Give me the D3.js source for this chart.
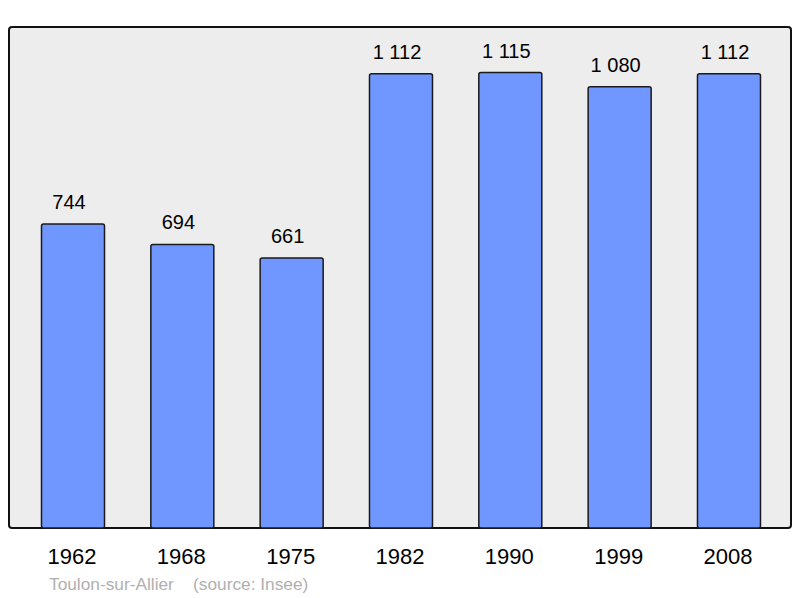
<!DOCTYPE html>
<html><head><meta charset="utf-8">
<script src="https://cdn.jsdelivr.net/npm/d3@7"></script>
<style>body{margin:0;background:#fff}</style>
</head><body>
<svg id="c" width="800" height="598"></svg>
<script>
const years = ["1962","1968","1975","1982","1990","1999","2008"];
const population = [744, 694, 661, 1112, 1115, 1080, 1112];
const valueLabels = ["744","694","661","1 112","1 115","1 080","1 112"];
const footer = "Toulon-sur-Allier    (source: Insee)";

const svg = d3.select("#c");
const frame = {x0: 9, y0: 27, x1: 791, y1: 528};
svg.append("rect").attr("x", frame.x0).attr("y", frame.y0)
  .attr("width", frame.x1 - frame.x0).attr("height", frame.y1 - frame.y0)
  .attr("rx", 3).attr("fill", "#ededed").attr("stroke", "#111").attr("stroke-width", 2);

const x = d3.scaleBand().domain(years).range([41.5, 41.5 + 6 * 109.33 + 63])
  .paddingInner((109.33 - 63) / 109.33).paddingOuter(0);
const y = d3.scaleLinear().domain([0, 1226.4]).range([frame.y1, frame.y0]);
const font = "Liberation Sans, Arial, sans-serif";

svg.selectAll("rect.bar").data(population).join("rect").attr("class","bar")
  .attr("x", (d,i) => x(years[i])).attr("y", d => y(d))
  .attr("width", x.bandwidth()).attr("height", d => frame.y1 - y(d))
  .attr("rx", 2).attr("fill", "#7097ff").attr("stroke", "#1a1a1a").attr("stroke-width", 1.5);

svg.selectAll("text.val").data(population).join("text").attr("class","val")
  .attr("x", (d,i) => x(years[i]) + x.bandwidth()/2 - 4).attr("y", d => y(d) - 15)
  .attr("text-anchor","middle").attr("font-family", font)
  .attr("font-size", 20).attr("fill","#000").text((d,i) => valueLabels[i]);

svg.selectAll("text.yr").data(years).join("text").attr("class","yr")
  .attr("x", d => x(d) + x.bandwidth()/2 - 1).attr("y", 564)
  .attr("text-anchor","middle").attr("font-family", font)
  .attr("font-size", 22).attr("fill","#000").text(d => d);

svg.append("text").attr("x", 49).attr("y", 590)
  .attr("font-family", font).attr("font-size", 17.3)
  .attr("fill","#b0b0b0").style("white-space","pre").text(footer);
</script>
</body></html>
